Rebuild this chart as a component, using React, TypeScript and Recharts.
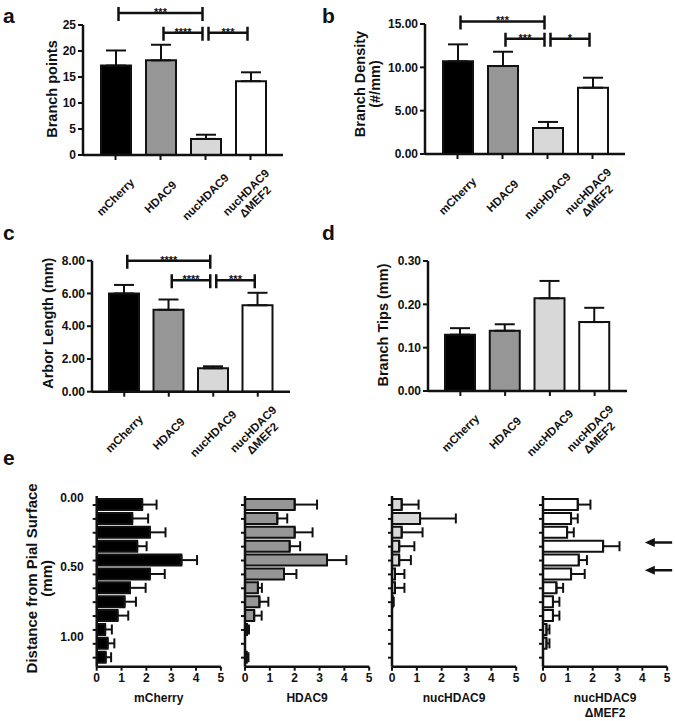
import React from 'react'
import { BarChart, Bar, XAxis, YAxis, ErrorBar, Cell, ReferenceLine } from 'recharts'

const FONT = '"Liberation Sans", Arial, Helvetica, sans-serif'
const INK = '#111'

// groups shared by every panel
const groups = ['mCherry', 'HDAC9', 'nucHDAC9', 'nucHDAC9 ΔMEF2']
const groupFills = ['#000000', '#969696', '#d8d8d8', '#ffffff']

// a - branch points
const branchPoints = [17.2, 18.2, 3.1, 14.2]
const branchPointsSem = [2.9, 3.0, 0.8, 1.7]
const branchPointsTicks = [0, 5, 10, 15, 20, 25]
const branchPointsSig = [
  { from: 'mCherry', to: 'nucHDAC9', y: 27.3, label: '***' },
  { from: 'HDAC9', to: 'nucHDAC9', y: 23.5, label: '****' },
  { from: 'nucHDAC9', to: 'nucHDAC9 ΔMEF2', y: 23.5, label: '***' },
]

// b - branch density
const branchDensity = [10.7, 10.15, 3.0, 7.65]
const branchDensitySem = [1.95, 1.65, 0.7, 1.15]
const branchDensityTicks = [0, 5, 10, 15]
const branchDensitySig = [
  { from: 'mCherry', to: 'nucHDAC9', y: 15.3, label: '***' },
  { from: 'HDAC9', to: 'nucHDAC9', y: 13.3, label: '***' },
  { from: 'nucHDAC9', to: 'nucHDAC9 ΔMEF2', y: 13.3, label: '*' },
]

// c - arbor length
const arborLength = [6.0, 5.0, 1.43, 5.28]
const arborLengthSem = [0.52, 0.63, 0.12, 0.76]
const arborLengthTicks = [0, 2, 4, 6, 8]
const arborLengthSig = [
  { from: 'mCherry', to: 'nucHDAC9', y: 8.0, label: '****' },
  { from: 'HDAC9', to: 'nucHDAC9', y: 6.8, label: '****' },
  { from: 'nucHDAC9', to: 'nucHDAC9 ΔMEF2', y: 6.8, label: '***' },
]

// d - branch tips
const branchTips = [0.13, 0.139, 0.214, 0.159]
const branchTipsSem = [0.015, 0.015, 0.04, 0.033]
const branchTipsTicks = [0, 0.1, 0.2, 0.3]

// e - depth profiles (0.1 mm bins)
const depthBins = [0.05, 0.15, 0.25, 0.35, 0.45, 0.55, 0.65, 0.75, 0.85, 0.95, 1.05, 1.15]
const depthLabels = [0, 0.5, 1.0]
const countTicks = [0, 1, 2, 3, 4, 5]

const mCherryProfile = [1.83, 1.43, 2.14, 1.63, 3.41, 2.14, 1.34, 1.12, 0.84, 0.34, 0.44, 0.36]
const mCherryProfileSem = [0.58, 0.64, 0.63, 0.38, 0.63, 0.6, 0.63, 0.46, 0.43, 0.27, 0.27, 0.22]
const hdac9Profile = [2.0, 1.3, 2.0, 1.8, 3.3, 1.57, 0.52, 0.58, 0.37, 0.08, 0, 0.07]
const hdac9ProfileSem = [0.9, 0.4, 0.72, 0.42, 0.78, 0.5, 0.16, 0.36, 0.3, 0.08, 0, 0.07]
const nucProfile = [0.39, 1.13, 0.39, 0.29, 0.29, 0.12, 0.12, 0.03, 0, 0, 0, 0]
const nucProfileSem = [0.68, 1.44, 0.84, 0.61, 0.47, 0.38, 0.38, 0.04, 0, 0, 0, 0]
const mef2Profile = [1.4, 1.13, 0.97, 2.42, 1.44, 1.13, 0.54, 0.4, 0.4, 0.14, 0.14, 0]
const mef2ProfileSem = [0.51, 0.27, 0.27, 0.66, 0.33, 0.55, 0.27, 0.26, 0.26, 0.12, 0.12, 0]
const mef2Arrows = [0.32, 0.52]

function GroupTick(props: any) {
  const { x, y, payload } = props
  const lines = String(payload.value).split(' ')
  return (
    <g transform={`translate(${x},${y + 35}) rotate(-45)`}>
      {lines.map((l, i) => (
        <text key={l} x={0} y={(i - (lines.length - 1) / 2) * 13} textAnchor="middle"
          dominantBaseline="central" fontSize={11.5} fontWeight="bold" fill={INK}>{l}</text>
      ))}
    </g>
  )
}

function rotatedLabel(lines: string[], dx: number[], dy: number, size: number) {
  return (props: any) => {
    const vb = props.viewBox || { x: 0, y: 0, width: 0, height: 0 }
    const right = vb.x + vb.width
    const cy = vb.y + vb.height / 2 + dy
    return (
      <g>
        {lines.map((l, i) => {
          const cx = right + dx[i]
          return (
            <text key={l} x={cx} y={cy} transform={`rotate(-90 ${cx} ${cy})`} textAnchor="middle"
              dominantBaseline="central" fontSize={size} fontWeight="bold" fill={INK}>{l}</text>
          )
        })}
      </g>
    )
  }
}

function bracketShape(label: string) {
  return (p: any) => {
    const a = p.x1 + 3
    const b = p.x2 - 3
    const y = p.y1
    return (
      <g>
        <path d={`M${a},${y - 6}V${y + 8}M${a},${y}H${b}M${b},${y - 6}V${y + 8}`}
          stroke={INK} strokeWidth={2.5} fill="none" />
        <text x={(a + b) / 2} y={y + 3} textAnchor="middle" fontSize={11} fontWeight="bold" fill={INK}>{label}</text>
      </g>
    )
  }
}

const arrowShape = (p: any) => {
  const { x1, x2, y1 } = p
  return (
    <g>
      <line x1={x1 + 6} x2={x2} y1={y1} y2={y1} stroke={INK} strokeWidth={2.5} />
      <path d={`M${x1},${y1}L${x1 + 10},${y1 - 4.5}L${x1 + 10},${y1 + 4.5}Z`} fill={INK} />
    </g>
  )
}

function GroupPanel(props: any) {
  const { left, top, width, plot, values, sem, domain, ticks, decimals, ylabel, ylabelDx, ylabelDy, brackets } = props
  const H = 245
  const yw = 50
  const xh = 40
  const data = groups.map((name, i) => ({ name, value: values[i], err: [0, sem[i]] }))
  const margin = {
    top: plot[1] - top,
    left: plot[0] - left - yw,
    right: left + width - plot[2],
    bottom: top + H - plot[3] - xh,
  }
  return (
    <div style={{ position: 'absolute', left, top }}>
      <BarChart width={width} height={H} data={data} margin={margin} barSize={30}>
        <XAxis dataKey="name" type="category" padding={{ left: 10, right: 10 }} height={xh}
          interval={0} tickSize={5} tickMargin={2} tick={<GroupTick />}
          axisLine={{ stroke: INK, strokeWidth: 2.5 }} tickLine={{ stroke: INK, strokeWidth: 2 }} />
        <YAxis type="number" domain={domain} ticks={ticks} allowDataOverflow width={yw} interval={0}
          tickFormatter={(v: number) => v.toFixed(decimals)} tickSize={5} tickMargin={2}
          tick={{ fontSize: 12, fontWeight: 'bold', fill: INK }}
          axisLine={{ stroke: INK, strokeWidth: 2.5 }} tickLine={{ stroke: INK, strokeWidth: 2 }}
          label={rotatedLabel(ylabel, ylabelDx, ylabelDy, 14.5)} />
        <Bar dataKey="value" stroke={INK} strokeWidth={2} isAnimationActive={false}>
          {data.map((d, i) => <Cell key={d.name} fill={groupFills[i]} />)}
          <ErrorBar dataKey="err" direction="y" width={10} strokeWidth={2} stroke={INK} isAnimationActive={false} />
        </Bar>
        {(brackets || []).map((b: any, i: number) => (
          <ReferenceLine key={i} ifOverflow="visible"
            segment={[{ x: b.from, y: b.y }, { x: b.to, y: b.y }]}
            shape={bracketShape(b.label)} />
        ))}
      </BarChart>
    </div>
  )
}

function DepthTick(props: any) {
  const { x, y, payload, showLabels } = props
  const v = payload.value
  if (depthLabels.includes(v)) {
    if (!showLabels) return <g />
    return (
      <text x={x} y={y} textAnchor="end" dominantBaseline="central" fontSize={12} fontWeight="bold" fill={INK}>
        {v.toFixed(2)}
      </text>
    )
  }
  return <line x1={x + 9} x2={x + 13} y1={y} y2={y} stroke={INK} strokeWidth={2} />
}

function xNameLabel(lines: string[]) {
  return (props: any) => {
    const vb = props.viewBox || { x: 0, y: 0, width: 0, height: 0 }
    const cx = vb.x + vb.width / 2
    return (
      <g>
        {lines.map((l, i) => (
          <text key={l} x={cx} y={vb.y + 31.5 + i * 15} textAnchor="middle" dominantBaseline="central"
            fontSize={12} fontWeight="bold" fill={INK}>{l}</text>
        ))}
      </g>
    )
  }
}

function HistPanel(props: any) {
  const { left, plotLeft, width, name, values, errs, fill, showLabels, arrows } = props
  const yw = 40
  const xh = 54.3
  const top = 480
  const H = 241
  const plotTop = 496
  const plotBottom = 666.7
  const plotRight = plotLeft + 124.2
  const data = depthBins.map((d, i) => ({ depth: d, value: values[i], err: [0, errs[i]] }))
  const margin = {
    top: plotTop - top,
    left: plotLeft - left - yw,
    right: left + width - plotRight,
    bottom: top + H - plotBottom - xh,
  }
  return (
    <div style={{ position: 'absolute', left, top }}>
      <BarChart layout="vertical" width={width} height={H} data={data} margin={margin} barSize={11}>
        <XAxis type="number" domain={[0, 5]} ticks={countTicks} allowDataOverflow height={xh} interval={0}
          tickSize={4} tickMargin={3} tick={{ fontSize: 12, fontWeight: 'bold', fill: INK }}
          axisLine={{ stroke: INK, strokeWidth: 2.5 }} tickLine={{ stroke: INK, strokeWidth: 2 }}
          label={xNameLabel(name.split(' '))} />
        <YAxis type="number" dataKey="depth" domain={[-0.015, 1.215]} allowDataOverflow width={yw}
          ticks={[...depthLabels, ...depthBins]} interval={0} tickSize={4} tickMargin={9} tickLine={false}
          tick={<DepthTick showLabels={showLabels} />} axisLine={{ stroke: INK, strokeWidth: 2.5 }}
          label={showLabels ? rotatedLabel(['Distance from Pial Surface', '(mm)'], [-65, -50], -3, 15) : undefined} />
        <Bar dataKey="value" fill={fill} stroke={INK} strokeWidth={2} isAnimationActive={false}>
          <ErrorBar dataKey="err" direction="x" width={5} strokeWidth={2} stroke={INK} isAnimationActive={false} />
        </Bar>
        {(arrows || []).map((d: number) => (
          <ReferenceLine key={d} ifOverflow="visible"
            segment={[{ x: 4.1, y: d }, { x: 5.2, y: d }]} shape={arrowShape} />
        ))}
      </BarChart>
    </div>
  )
}

export default function App() {
  return (
    <div style={{ position: 'absolute', left: 0, top: 0, width: 675, height: 721, background: '#fff', fontFamily: FONT, overflow: 'hidden' }}>
      <svg width={675} height={721} style={{ position: 'absolute', left: 0, top: 0 }}>
        <g fontSize={21} fontWeight="bold" fill={INK} fontFamily={FONT}>
          <text x={3} y={23}>a</text>
          <text x={322} y={23}>b</text>
          <text x={3} y={240}>c</text>
          <text x={322} y={240}>d</text>
          <text x={3} y={465}>e</text>
        </g>
      </svg>
      <GroupPanel left={0} top={0} width={300} plot={[83, 25, 283, 155]}
        values={branchPoints} sem={branchPointsSem} domain={[0, 25]} ticks={branchPointsTicks} decimals={0}
        ylabel={['Branch points']} ylabelDx={[-31]} ylabelDy={-1} brackets={branchPointsSig} />
      <GroupPanel left={300} top={0} width={340} plot={[425, 24, 625, 154]}
        values={branchDensity} sem={branchDensitySem} domain={[0, 15]} ticks={branchDensityTicks} decimals={2}
        ylabel={['Branch Density', '(#/mm)']} ylabelDx={[-65, -50]} ylabelDy={-5} brackets={branchDensitySig} />
      <GroupPanel left={0} top={228} width={300} plot={[92, 260.7, 290, 391.7]}
        values={arborLength} sem={arborLengthSem} domain={[0, 8]} ticks={arborLengthTicks} decimals={2}
        ylabel={['Arbor Length (mm)']} ylabelDx={[-44]} ylabelDy={-3} brackets={arborLengthSig} />
      <GroupPanel left={300} top={228} width={340} plot={[428, 261, 627, 391]}
        values={branchTips} sem={branchTipsSem} domain={[0, 0.3]} ticks={branchTipsTicks} decimals={2}
        ylabel={['Branch Tips (mm)']} ylabelDx={[-45]} ylabelDy={-1} brackets={[]} />
      <HistPanel left={0} plotLeft={96.7} width={235} name="mCherry" values={mCherryProfile}
        errs={mCherryProfileSem} fill={groupFills[0]} showLabels />
      <HistPanel left={195} plotLeft={245} width={190} name="HDAC9" values={hdac9Profile}
        errs={hdac9ProfileSem} fill={groupFills[1]} showLabels={false} />
      <HistPanel left={342.3} plotLeft={392.3} width={190} name="nucHDAC9" values={nucProfile}
        errs={nucProfileSem} fill={groupFills[2]} showLabels={false} />
      <HistPanel left={493.3} plotLeft={543.3} width={181.7} name="nucHDAC9 ΔMEF2" values={mef2Profile}
        errs={mef2ProfileSem} fill={groupFills[3]} showLabels={false} arrows={mef2Arrows} />
    </div>
  )
}
